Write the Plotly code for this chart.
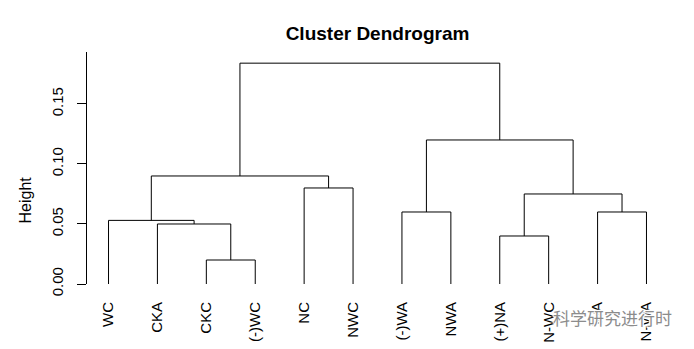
import plotly.graph_objects as go

# Leaf labels in dendrogram order
leaf_labels = ["WC", "CKA", "CKC", "(-)WC", "NC", "NWC",
               "(-)WA", "NWA", "(+)NA", "N-WC", "WA", "N-WA"]

# Agglomeration steps (R hclust convention): negative = leaf index (1-based),
# positive = earlier merge step (1-based)
merge_left = [-3, -9, -2, -1, -7, -11, 2, -5, 4, 5, 9]
merge_right = [-4, -10, 1, 3, -8, -12, 6, -6, 8, 7, 10]
merge_height = [0.020, 0.040, 0.050, 0.053, 0.060, 0.060,
                0.075, 0.080, 0.090, 0.120, 0.184]

y_ticks = [0.00, 0.05, 0.10, 0.15]

FONT = "Liberation Sans, Arial, sans-serif"

# Walk the merges to build the U-shaped connectors
node_x, node_h = [], []
xs, ys = [], []


def child_pos(c):
    if c < 0:
        return float(-c), 0.0
    return node_x[c - 1], node_h[c - 1]


for a, b, h in zip(merge_left, merge_right, merge_height):
    xa, ha = child_pos(a)
    xb, hb = child_pos(b)
    xs += [xa, xa, xb, xb, None]
    ys += [ha, h, h, hb, None]
    node_x.append((xa + xb) / 2)
    node_h.append(h)

fig = go.Figure()
fig.add_trace(go.Scatter(
    x=xs, y=ys, mode="lines",
    line=dict(color="black", width=1),
    hoverinfo="skip", showlegend=False, cliponaxis=False,
))

n = len(leaf_labels)
pad = 0.04 * (n - 1)

halo = ", ".join(f"{dx}px {dy}px 1px white"
                 for dx in (-1, 0, 1) for dy in (-1, 0, 1) if dx or dy)

fig.update_layout(
    width=694, height=349,
    margin=dict(l=87, r=26, t=52, b=65, autoexpand=False),
    paper_bgcolor="white", plot_bgcolor="white",
    font=dict(family=FONT, size=15, color="black"),
    title=dict(
        text="<b>Cluster Dendrogram</b>",
        x=0.5, xref="paper", xanchor="center",
        y=1 - 33 / 349, yref="container", yanchor="middle",
        font=dict(family=FONT, size=19, color="black"),
    ),
    xaxis=dict(
        range=[1 - pad, n + pad], automargin=False,
        tickvals=list(range(1, n + 1)), ticktext=leaf_labels,
        tickangle=-90, ticks="", showline=False, showgrid=False,
        zeroline=False, ticklabelstandoff=14,
        tickfont=dict(family=FONT, size=15, color="black"),
    ),
    yaxis=dict(
        range=[0, 0.1933], automargin=False,
        tickvals=y_ticks, ticktext=[f"{v:.2f}" for v in y_ticks],
        tickangle=-90, ticks="outside", ticklen=9, tickwidth=1,
        tickcolor="black", showline=True, linecolor="black", linewidth=1,
        showgrid=False, zeroline=False, ticklabelstandoff=8,
        tickfont=dict(family=FONT, size=15, color="black"),
    ),
    annotations=[
        dict(text="Height", textangle=-90, xref="paper", yref="paper",
             x=(24.5 - 87) / 581, y=(284 - 200) / 232,
             xanchor="center", yanchor="middle", showarrow=False,
             font=dict(family=FONT, size=16, color="black")),
        dict(text="科学研究进行时", xref="paper", yref="paper",
             x=(612.5 - 87) / 581, y=(284 - 317.5) / 232,
             xanchor="center", yanchor="middle", showarrow=False,
             font=dict(family="Noto Sans CJK SC", size=17,
                       color="rgb(140,140,140)", shadow=halo)),
    ],
)

fig.write_html("out.html")
